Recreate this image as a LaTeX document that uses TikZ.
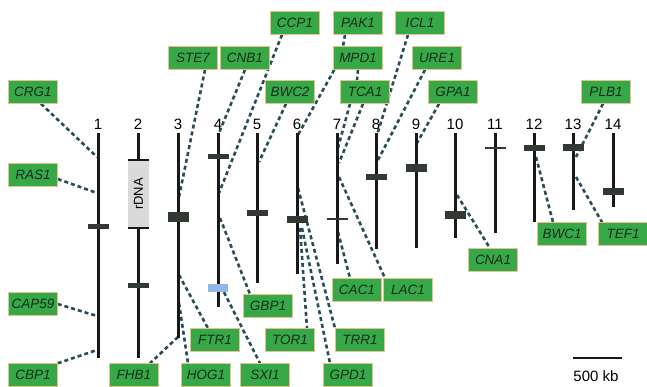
\documentclass[tikz,border=0pt]{standalone}
\usepackage{fontspec}
\setmainfont{Liberation Sans}
\newfontfamily\genefont{Liberation Sans}
\usetikzlibrary{backgrounds}

\definecolor{genegreen}{RGB}{55,168,72}
\definecolor{geneedge}{RGB}{228,195,140}
\definecolor{genetext}{RGB}{22,45,28}
\definecolor{linkcol}{RGB}{38,78,88}
\definecolor{chromcol}{RGB}{25,25,25}
\definecolor{cencol}{RGB}{50,56,50}
\definecolor{rdnacol}{RGB}{218,218,218}
\definecolor{sxicol}{RGB}{145,185,230}

\tikzset{
  gene/.style={draw=geneedge, line width=0.5pt, fill=genegreen, text=genetext,
    minimum width=49pt, minimum height=23pt, inner sep=0pt,
    font=\genefont\itshape\fontsize{13.5}{14}\selectfont},
  chrom/.style={draw=chromcol, line width=3pt},
  cen/.style={draw=cencol},
  num/.style={font=\fontsize{15}{16}\selectfont, inner sep=0pt},
  link/.style={draw=linkcol, line width=2.6pt, dash pattern=on 4pt off 3pt},
}

\begin{document}
\begin{tikzpicture}[x=1pt, y=-1pt]
    \useasboundingbox (0,0) rectangle (647,387);

    % chromosomes: x / bottom / centromere / bar thickness
    \foreach [count=\i] \x/\bot/\cy/\th in {98/358/227/5, 138/358/285/5, 178/338/217/10,
        218/307/157/5, 257/283/213/6, 297/274/220/7, 337/264/219/1.5, 376/249/177/6,
        416/248/168/8, 455/238/215/8, 495/233/148/2, 534/222/148/6, 573/210/148/7,
        613/207/192/7} {
      \draw[chrom] (\x,133) -- (\x,\bot);
      \draw[cen, line width=\th pt] (\x-10.5,\cy) -- (\x+10.5,\cy);
      \node[num] (n\i) at (\x,124) {\i};
    }

    % rDNA block and the blue mark on 4
    \node[fill=rdnacol, rotate=90, minimum width=68pt, minimum height=21pt, inner sep=0pt,
      font=\fontsize{13}{14}\selectfont] (rdna) at (138.5,194) {rDNA};
    \draw[chromcol, line width=2pt] (rdna.north west) -- (rdna.south west);
    \draw[chromcol, line width=2pt] (rdna.north east) -- (rdna.south east);
    \node[fill=sxicol, minimum width=20pt, minimum height=8pt, inner sep=0pt] (mark) at (218,288) {};

    % genes
    \node[gene] (CRG1) at (33,92) {CRG1};
    \node[gene] (RAS1) at (33,175) {RAS1};
    \node[gene] (CAP59) at (33,304) {CAP59};
    \node[gene] (CBP1) at (33,375) {CBP1};
    \node[gene] (STE7) at (193,58) {STE7};
    \node[gene] (CNB1) at (245,58) {CNB1};
    \node[gene] (CCP1) at (295,23) {CCP1};
    \node[gene] (BWC2) at (290,92) {BWC2};
    \node[gene] (PAK1) at (358,23) {PAK1};
    \node[gene] (MPD1) at (358,58) {MPD1};
    \node[gene] (TCA1) at (365,92) {TCA1};
    \node[gene] (ICL1) at (420,23) {ICL1};
    \node[gene] (URE1) at (437,58) {URE1};
    \node[gene] (GPA1) at (453,92) {GPA1};
    \node[gene] (PLB1) at (606,92) {PLB1};
    \node[gene] (GBP1) at (268,306) {GBP1};
    \node[gene] (CAC1) at (357,290) {CAC1};
    \node[gene] (LAC1) at (408,290) {LAC1};
    \node[gene] (FTR1) at (215,340) {FTR1};
    \node[gene] (TOR1) at (290,340) {TOR1};
    \node[gene] (TRR1) at (360,340) {TRR1};
    \node[gene] (FHB1) at (134,375) {FHB1};
    \node[gene] (HOG1) at (206,375) {HOG1};
    \node[gene] (SXI1) at (265,375) {SXI1};
    \node[gene] (GPD1) at (348,375) {GPD1};
    \node[gene] (CNA1) at (493,260) {CNA1};
    \node[gene] (BWC1) at (562,234) {BWC1};
    \node[gene] (TEF1) at (623,234) {TEF1};

    % loci on the chromosomes
    \coordinate (crg) at (97,157);
    \coordinate (ras) at (97,193);
    \coordinate (cap) at (97,316);
    \coordinate (cbp) at (97,350);
    \coordinate (ste) at (179,197);
    \coordinate (cnb) at (219,133);
    \coordinate (ccp) at (219,193);
    \coordinate (bwc2) at (259,162);
    \coordinate (mpd) at (298,135);
    \coordinate (tcaa) at (338,148);
    \coordinate (tcab) at (339,163);
    \coordinate (icl) at (377,135);
    \coordinate (ure) at (378,160);
    \coordinate (gpa) at (417,143);
    \coordinate (plb) at (576,157);
    \coordinate (ftr) at (179,275);
    \coordinate (hog) at (179,303);
    \coordinate (fhb) at (178,337);
    \coordinate (gbp) at (220,218);
    \coordinate (tor) at (300,228);
    \coordinate (trr) at (298,188);
    \coordinate (gpd) at (302,228);
    \coordinate (cac) at (338,232);
    \coordinate (lac) at (339,177);
    \coordinate (cna) at (457,195);
    \coordinate (bwc1) at (536,157);
    \coordinate (tef) at (576,177);

    % dashed links, kept behind everything
    \begin{scope}[on background layer]
      \draw[link] ([xshift=8pt]CRG1.south) -- (crg);
      \draw[link] ([yshift=-4pt]RAS1.east) -- (ras);
      \draw[link] (CAP59.east) -- (cap);
      \draw[link] (CBP1.north east) -- (cbp);
      \draw[link] ([xshift=12pt]STE7.south) -- (ste);
      \draw[link] (CNB1.south) -- (cnb);
      \draw[link] ([xshift=-13pt]CCP1.south) -- (ccp);
      \draw[link] ([xshift=-4pt]BWC2.south) -- (bwc2);
      \draw[link] ([xshift=1pt]MPD1.south west) -- (mpd);
      \draw[link] ([xshift=-13pt]PAK1.south) -- ([xshift=-15pt]MPD1.north);
      \draw[link] (MPD1.south) -- ([xshift=-8pt]TCA1.north);
      \draw[link] ([xshift=-15pt]TCA1.south) -- (tcaa);
      \draw[link] ([xshift=-2pt]TCA1.south) -- (tcab);
      \draw[link] ([xshift=-12pt]ICL1.south) -- (icl);
      \draw[link] ([xshift=-12pt]URE1.south) -- (ure);
      \draw[link] ([xshift=-14pt]GPA1.south) -- (gpa);
      \draw[link] ([xshift=-3pt]PLB1.south) -- (plb);
      \draw[link] (ftr) -- ([xshift=-7pt]FTR1.north);
      \draw[link] (hog) -- ([xshift=-18pt]HOG1.north);
      \draw[link] (fhb) -- ([xshift=16pt]FHB1.north);
      \draw[link] (gbp) -- ([xshift=-18pt]GBP1.north);
      \draw[link] ([xshift=6pt]mark.south) -- ([xshift=-5pt]SXI1.north);
      \draw[link] (tor) -- ([xshift=17pt]TOR1.north);
      \draw[link] (trr) -- ([xshift=-25pt]TRR1.north);
      \draw[link] (gpd) -- ([xshift=-18pt]GPD1.north);
      \draw[link] (cac) -- ([xshift=-7pt]CAC1.north);
      \draw[link] (lac) -- ([xshift=-23pt]LAC1.north);
      \draw[link] (cna) -- ([xshift=-3pt]CNA1.north);
      \draw[link] (bwc1) -- ([xshift=-9pt]BWC1.north);
      \draw[link] (tef) -- ([xshift=-21pt]TEF1.north);
    \end{scope}

    % scale bar
    \coordinate (sbl) at (573,358);
    \coordinate (sbr) at (622,358);
    \draw[chromcol, line width=2pt] (sbl) -- (sbr);
    \node[font=\fontsize{15}{16}\selectfont, inner sep=0pt] (scale) at (596,376) {500 kb};
  \end{tikzpicture}
\end{document}
